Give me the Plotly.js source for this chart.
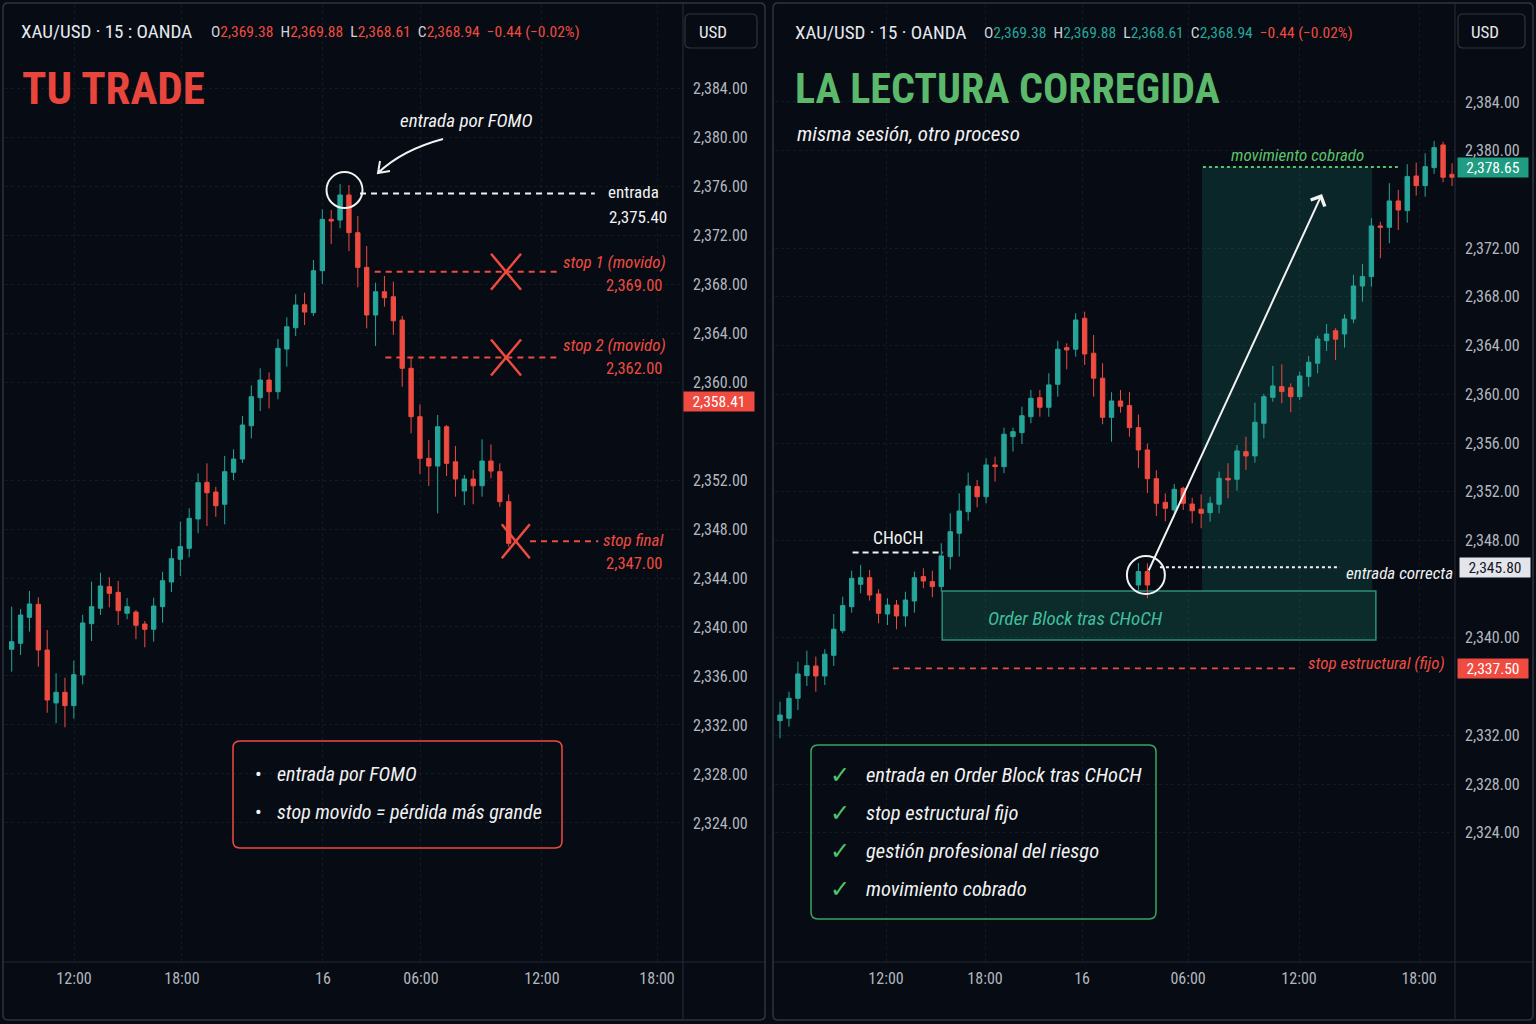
<!DOCTYPE html>
<html>
<head>
<meta charset="utf-8">
<script src="https://cdn.plot.ly/plotly-3.0.1.min.js"></script>
<style>
  html, body { margin: 0; padding: 0; background: #060b14; }
  #chart { width: 1536px; height: 1024px; }
</style>
</head>
<body>
<div id="chart"></div>
<script>
// ---------- data: XAU/USD 15m, left = "TU TRADE" session ----------
const leftOpen = [2338.18, 2338.67, 2340.79, 2341.85, 2338.12, 2333.80, 2334.67, 2333.58, 2336.08, 2340.27,
  2341.53, 2343.29, 2342.83, 2341.12, 2341.22, 2340.24, 2339.81, 2341.66, 2343.67, 2345.53,
  2346.42, 2348.82, 2351.81, 2351.02, 2350.02, 2352.63, 2353.71, 2356.43, 2358.72, 2360.16,
  2359.21, 2362.69, 2364.43, 2366.31, 2365.66, 2369.09, 2373.28, 2373.22, 2375.27, 2372.19,
  2369.36, 2365.47, 2367.37, 2366.96, 2365.06, 2361.12, 2357.17, 2353.77, 2353.14, 2356.35,
  2353.49, 2351.10, 2352.08, 2351.53, 2353.55, 2352.68, 2350.23];
const leftHigh = [2341.66, 2341.47, 2342.94, 2342.42, 2339.76, 2336.22, 2335.86, 2337.25, 2341.00, 2343.70,
  2344.43, 2344.06, 2343.76, 2342.37, 2341.39, 2340.49, 2342.39, 2344.51, 2346.37, 2348.60,
  2349.69, 2352.55, 2353.36, 2351.45, 2353.96, 2354.51, 2357.22, 2359.73, 2361.12, 2360.79,
  2363.51, 2365.28, 2367.16, 2367.29, 2369.96, 2374.10, 2374.04, 2376.16, 2376.08, 2373.55,
  2371.10, 2368.11, 2368.65, 2368.19, 2365.39, 2362.02, 2358.18, 2355.27, 2357.31, 2356.49,
  2354.78, 2352.41, 2352.82, 2355.32, 2354.91, 2353.36, 2350.83];
const leftLow = [2336.35, 2337.71, 2339.62, 2336.76, 2333.00, 2332.14, 2331.81, 2332.51, 2335.32, 2338.86,
  2340.98, 2341.61, 2340.16, 2340.63, 2339.00, 2338.34, 2338.80, 2340.35, 2342.86, 2344.16,
  2345.69, 2347.65, 2348.24, 2349.00, 2348.38, 2352.00, 2353.39, 2355.40, 2357.63, 2357.85,
  2358.59, 2361.25, 2363.76, 2364.65, 2365.39, 2368.00, 2371.27, 2372.55, 2370.69, 2367.73,
  2364.38, 2362.94, 2366.15, 2363.84, 2359.62, 2355.81, 2352.49, 2351.51, 2349.28, 2352.33,
  2350.64, 2349.96, 2350.02, 2350.64, 2352.14, 2349.82, 2346.56];
const leftClose = [2338.80, 2340.98, 2341.88, 2338.12, 2334.04, 2334.67, 2333.58, 2336.11, 2340.33, 2341.66,
  2343.35, 2342.75, 2341.33, 2341.66, 2340.14, 2339.81, 2341.71, 2343.78, 2345.58, 2346.56,
  2348.87, 2351.78, 2350.96, 2349.90, 2352.68, 2353.71, 2356.49, 2358.80, 2360.16, 2359.21,
  2362.75, 2364.51, 2366.29, 2365.71, 2369.09, 2373.28, 2373.14, 2375.27, 2372.19, 2369.36,
  2365.47, 2367.37, 2366.88, 2365.00, 2361.12, 2357.17, 2353.77, 2353.14, 2356.35, 2353.36,
  2352.08, 2352.08, 2351.53, 2353.55, 2352.73, 2350.23, 2346.83];

// ---------- data: right = "LA LECTURA CORREGIDA" session ----------
const rightOpen = [2333.20, 2333.40, 2335.04, 2336.90, 2337.69, 2336.87, 2338.57, 2340.59, 2342.56, 2344.40,
  2344.94, 2343.61, 2341.96, 2342.70, 2341.80, 2343.03, 2345.03, 2344.62, 2344.21, 2346.67,
  2348.59, 2350.36, 2352.42, 2351.59, 2354.20, 2354.06, 2356.52, 2356.85, 2358.16, 2359.72,
  2358.93, 2360.82, 2363.83, 2363.70, 2366.24, 2363.37, 2361.32, 2358.11, 2359.45, 2359.07,
  2357.26, 2355.43, 2353.07, 2351.13, 2350.50, 2352.28, 2350.99, 2350.56, 2350.28, 2350.97,
  2353.10, 2353.02, 2355.29, 2354.94, 2357.62, 2359.75, 2360.63, 2360.54, 2359.80, 2361.45,
  2362.55, 2364.40, 2365.22, 2364.95, 2366.18, 2368.89, 2369.66, 2373.82, 2373.71, 2375.87,
  2375.08, 2377.92, 2377.13, 2378.61, 2380.47, 2378.06];
const rightHigh = [2334.76, 2335.58, 2338.05, 2338.95, 2338.46, 2339.07, 2341.96, 2343.38, 2345.52, 2345.99,
  2345.58, 2343.99, 2343.25, 2343.11, 2343.79, 2345.44, 2345.72, 2345.52, 2347.77, 2350.23,
  2351.87, 2353.56, 2352.97, 2354.75, 2354.88, 2357.26, 2357.26, 2358.98, 2360.35, 2360.35,
  2361.73, 2364.40, 2364.19, 2366.65, 2366.78, 2364.87, 2362.55, 2360.17, 2360.35, 2360.19,
  2358.34, 2355.95, 2353.76, 2351.87, 2352.64, 2352.42, 2351.51, 2351.79, 2351.59, 2353.65,
  2354.34, 2355.84, 2356.52, 2359.31, 2360.03, 2362.33, 2362.46, 2360.90, 2361.86, 2363.15,
  2364.81, 2365.77, 2365.42, 2366.57, 2369.80, 2370.70, 2374.45, 2374.17, 2377.33, 2376.78,
  2378.89, 2379.02, 2379.79, 2380.80, 2380.74, 2378.97];
const rightLow = [2331.76, 2332.71, 2334.08, 2336.05, 2335.58, 2336.13, 2337.69, 2340.38, 2342.07, 2343.66,
  2343.06, 2341.20, 2341.06, 2340.71, 2340.92, 2342.07, 2344.07, 2343.34, 2343.79, 2345.63,
  2346.67, 2349.62, 2350.72, 2351.05, 2352.83, 2353.52, 2355.29, 2355.92, 2357.62, 2358.16,
  2358.16, 2359.80, 2362.05, 2363.09, 2362.41, 2359.80, 2357.54, 2356.11, 2358.49, 2356.52,
  2353.93, 2351.90, 2350.01, 2349.57, 2349.95, 2350.50, 2349.41, 2349.00, 2349.54, 2350.23,
  2351.46, 2352.09, 2353.79, 2354.39, 2356.39, 2359.39, 2359.26, 2358.52, 2359.53, 2360.63,
  2361.73, 2363.56, 2362.82, 2363.83, 2365.83, 2367.60, 2368.84, 2371.17, 2372.40, 2373.49,
  2374.09, 2376.31, 2376.22, 2378.09, 2377.41, 2377.10];
const rightClose = [2333.67, 2335.04, 2337.04, 2337.72, 2336.87, 2338.66, 2340.71, 2342.65, 2344.89, 2344.94,
  2343.52, 2342.02, 2342.70, 2341.80, 2343.11, 2344.94, 2344.67, 2344.21, 2346.73, 2348.72,
  2350.42, 2352.47, 2351.59, 2354.20, 2354.06, 2356.72, 2356.93, 2358.24, 2359.67, 2358.93,
  2360.77, 2363.70, 2363.64, 2366.10, 2363.31, 2361.32, 2358.11, 2359.45, 2359.02, 2357.26,
  2355.43, 2353.07, 2351.05, 2350.64, 2352.20, 2351.05, 2350.44, 2350.23, 2351.05, 2353.10,
  2352.97, 2355.35, 2354.94, 2357.70, 2359.80, 2360.68, 2360.22, 2359.80, 2361.50, 2362.63,
  2364.54, 2364.95, 2364.52, 2366.18, 2368.89, 2369.66, 2373.82, 2373.71, 2375.87, 2375.13,
  2377.87, 2377.13, 2378.69, 2380.25, 2377.82, 2377.82];

// the two entry candles inside the order block (bar slots 40 and 41)
const entrySlots = [40, 41];
const entryOpen  = [2344.34, 2345.44];
const entryHigh  = [2346.15, 2346.13];
const entryLow   = [2343.93, 2343.25];
const entryClose = [2345.44, 2344.34];

// ---------- levels ----------
const fomoEntry = 2375.40;
const movedStops = [2369.00, 2362.00];
const finalStop = 2347.00;
const lastPriceLeft = 2358.41;

const targetPrice = 2378.65;
const correctEntry = 2345.80;
const structuralStop = 2337.50;
const chochLevel = 2347.00;
const orderBlock = [2339.83, 2343.85];   // bottom, top

// ---------- header / axis labels ----------
const headerKeys = ['O', 'H', 'L', 'C'];
const headerValues = [2369.38, 2369.88, 2368.61, 2368.94];
const headerChange = [-0.44, -0.02];       // absolute, percent
const timeLabels = ['12:00', '18:00', '16', '06:00', '12:00', '18:00'];
const leftTimeTickAt = [7.02, 19.18, 35.07, 46.11, 59.75, 72.71];
const rightTimeTickAt = [11.83, 22.88, 33.71, 45.54, 57.92, 71.32];
const leftPriceTicks = [2324, 2328, 2332, 2336, 2340, 2344, 2348, 2352, 2360, 2364, 2368, 2372, 2376, 2380, 2384];
const rightPriceTicks = [2324, 2328, 2332, 2340, 2348, 2352, 2356, 2360, 2364, 2368, 2372, 2380, 2384];
const leftNotes = ['entrada por FOMO', 'stop movido = pérdida más grande'];
const rightChecks = ['entrada en Order Block tras CHoCH', 'stop estructural fijo', 'gestión profesional del riesgo', 'movimiento cobrado'];

// ---------- style ----------
const BG = '#060b14';
const FRAME = '#30343e';
const SEP = '#242833';
const GREEN = '#26a69a';
const RED = '#ef4b40';
const AXIS_TXT = '#b4b7bf';
const NARROW = '"Liberation Sans Narrow", "Roboto Condensed", "DejaVu Sans Condensed", "Arial Narrow", sans-serif';
const W = 1536, H = 1024;

const px = x => x / W;
const py = y => 1 - y / H;
const P = (x, y) => `${px(x).toFixed(5)},${py(y).toFixed(5)}`;
const fmt = v => v.toLocaleString('en-US', { minimumFractionDigits: 2, maximumFractionDigits: 2 });
const signed = v => (v < 0 ? '\u2212' : '+') + Math.abs(v).toFixed(2);

function roundRect(x0, y0, x1, y1, r) {
  return `M${P(x0 + r, y0)} L${P(x1 - r, y0)} Q${P(x1, y0)} ${P(x1, y0 + r)} L${P(x1, y1 - r)} Q${P(x1, y1)} ${P(x1 - r, y1)} ` +
         `L${P(x0 + r, y1)} Q${P(x0, y1)} ${P(x0, y1 - r)} L${P(x0, y0 + r)} Q${P(x0, y0)} ${P(x0 + r, y0)} Z`;
}
function boxShape(x0, y0, x1, y1, r, color, width, fill) {
  return { type: 'path', xref: 'paper', yref: 'paper', path: roundRect(x0, y0, x1, y1, r),
           line: { color, width }, fillcolor: fill || 'rgba(0,0,0,0)', layer: 'above' };
}
function pxLine(x0, y0, x1, y1, color, width) {
  return { type: 'line', xref: 'paper', yref: 'paper', x0: px(x0), y0: py(y0), x1: px(x1), y1: py(y1),
           line: { color, width }, layer: 'above' };
}
function level(xr, yr, x0, x1, y, color, dash, width) {
  return { type: 'line', xref: xr, yref: yr, x0, x1, y0: y, y1: y, line: { color, width: width || 2, dash }, layer: 'above' };
}
function cross(xr, yr, xa, ya, hw, hh, color) {
  const base = { type: 'line', xref: xr, yref: yr, xsizemode: 'pixel', ysizemode: 'pixel', xanchor: xa, yanchor: ya,
                 line: { color, width: 2.5 }, layer: 'above' };
  return [Object.assign({}, base, { x0: -hw, x1: hw, y0: hh, y1: -hh }),
          Object.assign({}, base, { x0: -hw, x1: hw, y0: -hh, y1: hh })];
}
function ring(xr, yr, xa, ya, x0, x1, y0, y1) {
  return { type: 'circle', xref: xr, yref: yr, xsizemode: 'pixel', ysizemode: 'pixel', xanchor: xa, yanchor: ya,
           x0, x1, y0, y1, line: { color: '#f2f2f2', width: 2 }, layer: 'above' };
}
function txt(x, y, text, font, extra) {
  return Object.assign({ xref: 'paper', yref: 'paper', x: px(x), y: py(y), text, showarrow: false,
                         xanchor: 'left', yanchor: 'middle',
                         font: Object.assign({ family: NARROW, size: 17, color: '#f2f2f2' }, font || {}) }, extra || {});
}
function badge(xPx, yref, price, bg, fg) {
  return { xref: 'paper', yref, x: px(xPx), y: price, xanchor: 'left', yanchor: 'middle', text: fmt(price),
           showarrow: false, bgcolor: bg, borderpad: 2, width: 66, height: 15, align: 'center',
           font: { family: NARROW, size: 15.5, color: fg } };
}
function ohlcText(valColor) {
  const parts = headerKeys.map((k, i) =>
    `<span style="color:#d1d4dc">${k}</span><span style="color:${valColor}">${fmt(headerValues[i])}</span>`);
  return parts.join('\u00a0\u00a0') + '\u00a0\u00a0' +
    `<span style="color:${RED}">${signed(headerChange[0])} (${signed(headerChange[1])}%)</span>`;
}

// ---------- traces ----------
const candleStyle = {
  increasing: { line: { color: GREEN, width: 1 }, fillcolor: GREEN },
  decreasing: { line: { color: RED, width: 1 }, fillcolor: RED },
  whiskerwidth: 0, hoverinfo: 'skip', showlegend: false
};
const traces = [
  Object.assign({ type: 'candlestick', name: 'TU TRADE', xaxis: 'x', yaxis: 'y',
    x: leftOpen.map((_, i) => i), open: leftOpen, high: leftHigh, low: leftLow, close: leftClose }, candleStyle),
  Object.assign({ type: 'candlestick', name: 'LA LECTURA CORREGIDA', xaxis: 'x2', yaxis: 'y2',
    x: rightOpen.map((_, i) => i), open: rightOpen, high: rightHigh, low: rightLow, close: rightClose }, candleStyle),
  Object.assign({ type: 'candlestick', name: 'entrada', xaxis: 'x2', yaxis: 'y2',
    x: entrySlots, open: entryOpen, high: entryHigh, low: entryLow, close: entryClose }, candleStyle)
];

// ---------- axes ----------
const gridStyle = { showgrid: true, gridcolor: 'rgba(150,160,185,0.10)', griddash: 'dot', gridwidth: 1,
                    zeroline: false, showline: false, ticks: '', fixedrange: true, automargin: false };
const xStyle = Object.assign({}, gridStyle, { type: 'linear', ticklabelstandoff: 5, rangeslider: { visible: false },
                    tickfont: { family: NARROW, size: 16, color: AXIS_TXT }, ticktext: timeLabels });
const yStyle = Object.assign({}, gridStyle, { side: 'right', tickformat: ',.2f', ticklabelstandoff: 9,
                    tickfont: { family: NARROW, size: 16, color: AXIS_TXT }, tickmode: 'array' });
const yDomain = [py(962), py(5)];

// ---------- shapes ----------
const shapes = [
  // panel frames and scale separators
  boxShape(3, 3, 765, 1020, 5, FRAME, 1.5),
  boxShape(773, 3, 1533, 1020, 5, FRAME, 1.5),
  pxLine(683, 4, 683, 1019, SEP, 1.2),
  pxLine(4, 962, 764, 962, SEP, 1.2),
  pxLine(1455, 4, 1455, 1019, SEP, 1.2),
  pxLine(774, 962, 1532, 962, SEP, 1.2),
  boxShape(685, 14, 757, 48, 5, '#30343e', 1.2),
  boxShape(1458, 14, 1525, 48, 5, '#30343e', 1.2),

  // left: FOMO entry and moved stops
  ring('x', 'y', 37.5, leftHigh[37], -18, 18, -24, 12),
  level('x', 'y', 39.25, 65.7, fomoEntry, '#f2f2f2', '6px,5px', 2),
  level('x', 'y', 40.9, 61.6, movedStops[0], RED, '6px,5px', 2),
  level('x', 'y', 42.1, 61.6, movedStops[1], RED, '6px,5px', 2),
  level('x', 'y', 58.4, 66.1, finalStop, RED, '6px,5px', 2),
  ...cross('x', 'y', 55.7, movedStops[0], 15, 18, RED),
  ...cross('x', 'y', 55.7, movedStops[1], 15, 18, RED),
  ...cross('x', 'y', 56.8, finalStop, 14, 17, RED),
  { type: 'path', xref: 'paper', yref: 'paper', layer: 'above', line: { color: '#f2f2f2', width: 2 },
    path: `M${P(443, 139)} Q${P(402, 150)} ${P(378, 173)} M${P(380, 161)} L${P(378, 173)} L${P(390, 171)}` },
  boxShape(233, 741, 562, 848, 7, RED, 1.5),

  // right: corrected read
  { type: 'rect', xref: 'x2', yref: 'y2', x0: 47.1, x1: 66.1, y0: orderBlock[1], y1: targetPrice,
    fillcolor: 'rgba(30,150,125,0.20)', line: { width: 0 }, layer: 'between' },
  { type: 'rect', xref: 'x2', yref: 'y2', x0: 18.1, x1: 66.5, y0: orderBlock[0], y1: orderBlock[1],
    fillcolor: 'rgba(28,120,100,0.30)', line: { color: '#2c8f7a', width: 1.5 }, layer: 'between' },
  level('x2', 'y2', 47.2, 69.2, targetPrice, '#56c26a', 'dot', 2),
  level('x2', 'y2', 8.1, 18.2, chochLevel, '#f2f2f2', '6px,4px', 2),
  level('x2', 'y2', 42.4, 62.5, correctEntry, '#f2f2f2', 'dot', 2),
  level('x2', 'y2', 12.6, 58.0, structuralStop, RED, '6px,5px', 1.6),
  ring('x2', 'y2', 40.5, entryHigh[0], -16, 22, -31, 7),
  boxShape(811, 745, 1156, 919, 7, '#3aa566', 1.5)
];

// ---------- annotations ----------
const hand = { style: 'italic', size: 17 };
const annotations = [
  // left header
  txt(19, 31, 'XAU/USD · 15 : OANDA', { size: 19, color: '#e6e8ee' }),
  txt(209, 32, ohlcText(RED), { size: 15.5 }),
  txt(697, 32, 'USD', { size: 17, color: '#e6e8ee' }),
  txt(20, 88, 'TU TRADE', { size: 45, weight: 'bold', color: '#e8453c' }),
  txt(466, 120, 'entrada por FOMO', { style: 'italic', size: 19 }, { xanchor: 'center' }),
  txt(606, 192, 'entrada', { size: 17 }),
  txt(607, 217, fmt(fomoEntry), { size: 17 }),
  txt(668, 262, 'stop 1 (movido)', Object.assign({}, hand, { color: RED }), { xanchor: 'right' }),
  txt(664, 285, fmt(movedStops[0]), { size: 16.5, color: RED }, { xanchor: 'right' }),
  txt(668, 345, 'stop 2 (movido)', Object.assign({}, hand, { color: RED }), { xanchor: 'right' }),
  txt(664, 368, fmt(movedStops[1]), { size: 16.5, color: RED }, { xanchor: 'right' }),
  txt(665, 540, 'stop final', Object.assign({}, hand, { color: RED }), { xanchor: 'right' }),
  txt(664, 563, fmt(finalStop), { size: 16.5, color: RED }, { xanchor: 'right' }),
  badge(683, 'y', lastPriceLeft, '#ef4b40', '#ffffff'),
  ...leftNotes.flatMap((t, i) => [
    txt(258, 774 + i * 38, '•', { size: 20 }, { xanchor: 'center' }),
    txt(275, 774 + i * 38, t, { style: 'italic', size: 20 })
  ]),

  // right header
  txt(793, 32, 'XAU/USD · 15 · OANDA', { size: 19, color: '#e6e8ee' }),
  txt(982, 33, ohlcText(GREEN), { size: 15.5 }),
  txt(1469, 32, 'USD', { size: 17, color: '#e6e8ee' }),
  txt(793, 88, 'LA LECTURA CORREGIDA', { size: 42, weight: 'bold', color: '#5cb86b' }),
  txt(795, 134, 'misma sesión, otro proceso', { style: 'italic', size: 21 }),
  txt(1297, 155, 'movimiento cobrado', Object.assign({}, hand, { color: '#5cc36b' }), { xanchor: 'center' }),
  txt(898, 538, 'CHoCH', { size: 17.5 }, { xanchor: 'center' }),
  txt(1455, 573, 'entrada correcta', { style: 'italic', size: 17 }, { xanchor: 'right' }),
  txt(1075, 618, 'Order Block tras CHoCH', { style: 'italic', size: 19, color: '#40bf9e' }, { xanchor: 'center' }),
  txt(1447, 663, 'stop estructural (fijo)', Object.assign({}, hand, { color: RED }), { xanchor: 'right' }),
  badge(1457, 'y2', targetPrice, '#1f9c82', '#ffffff'),
  badge(1459, 'y2', correctEntry, '#e3e5ea', '#14171f'),
  badge(1457, 'y2', structuralStop, '#ef4b40', '#ffffff'),
  { xref: 'paper', yref: 'paper', x: px(1322), y: py(194), ax: -174, ay: 378, axref: 'pixel', ayref: 'pixel',
    text: '', showarrow: true, arrowhead: 4, arrowsize: 1.5, arrowwidth: 2, arrowcolor: '#f2f2f2' },
  ...rightChecks.flatMap((t, i) => [
    txt(840, 775 + i * 38, '✓', { family: '"DejaVu Sans", sans-serif', size: 24, color: '#4ec46a' }, { xanchor: 'center' }),
    txt(864, 775 + i * 38, t, { style: 'italic', size: 20.5 })
  ])
];

const layout = {
  width: W, height: H,
  margin: { l: 0, r: 0, t: 0, b: 0, pad: 0 },
  paper_bgcolor: BG, plot_bgcolor: BG,
  showlegend: false, hovermode: false, dragmode: false,
  xaxis: Object.assign({}, xStyle, { domain: [px(5), px(683)], range: [-0.755, 75.64], anchor: 'y',
                                     tickvals: leftTimeTickAt }),
  yaxis: Object.assign({}, yStyle, { domain: yDomain, range: [2312.65, 2390.78], anchor: 'x', tickvals: leftPriceTicks }),
  xaxis2: Object.assign({}, xStyle, { domain: [px(775), px(1455)], range: [-0.558, 75.33], anchor: 'y2',
                                      tickvals: rightTimeTickAt }),
  yaxis2: Object.assign({}, yStyle, { domain: yDomain, range: [2313.39, 2391.96], anchor: 'x2', tickvals: rightPriceTicks }),
  shapes, annotations
};

Plotly.newPlot('chart', traces, layout, { displayModeBar: false, staticPlot: true });
</script>
</body>
</html>
